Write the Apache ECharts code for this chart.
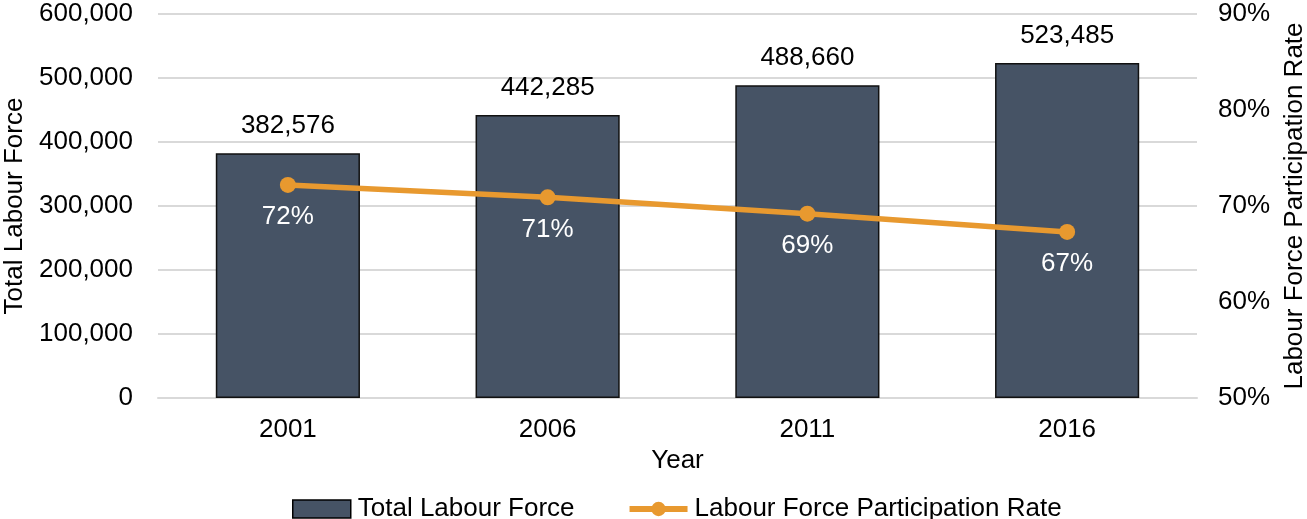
<!DOCTYPE html>
<html>
<head>
<meta charset="utf-8">
<script src="https://cdn.jsdelivr.net/npm/echarts@6/dist/echarts.min.js"></script>
<style>html,body{margin:0;padding:0;background:#fff;}#c{width:1307px;height:519px;}</style>
</head>
<body>
<div id="c"></div>
<script>
const years = ['2001', '2006', '2011', '2016'];
const labourForce = [382576, 442285, 488660, 523485];
const participationRate = [72.2, 70.9, 69.2, 67.3];
const leftTicks = {min: 0, max: 600000, interval: 100000};
const rightTicks = {min: 50, max: 90, interval: 10};

const FONT = '"Liberation Sans", Arial, sans-serif';
const FS = 26;
const ORANGE = '#E8992F';
const chart = echarts.init(document.getElementById('c'), null, {renderer: 'canvas'});
chart.setOption({
  backgroundColor: '#ffffff',
  animation: false,
  textStyle: {fontFamily: FONT, color: '#000'},
  grid: {left: 158, right: 110, top: 14, bottom: 121, containLabel: false, outerBoundsMode: 'none'},
  legend: {
    left: 287, top: 491,
    itemWidth: 58, itemHeight: 18, itemGap: 52,
    textStyle: {fontFamily: FONT, fontSize: FS, color: '#000', padding: [0, 0, 0, 2]},
    data: [
      {name: 'Total Labour Force', icon: 'rect', itemStyle: {color: '#465365', borderColor: '#000', borderWidth: 1.5}},
      {name: 'Labour Force Participation Rate', itemStyle: {color: ORANGE}, lineStyle: {color: ORANGE, width: 6}}
    ]
  },
  xAxis: {
    type: 'category', data: years,
    name: 'Year', nameLocation: 'middle', nameGap: 46,
    nameTextStyle: {fontFamily: FONT, fontSize: FS, color: '#000'},
    axisLine: {show: true, lineStyle: {color: '#d9d9d9', width: 2}},
    axisTick: {show: false},
    axisLabel: {fontFamily: FONT, fontSize: FS, color: '#000', margin: 19}
  },
  yAxis: [
    {
      type: 'value', min: leftTicks.min, max: leftTicks.max, interval: leftTicks.interval,
      name: 'Total Labour Force', nameLocation: 'middle', nameGap: 129, nameRotate: 90,
      nameTextStyle: {fontFamily: FONT, fontSize: FS, color: '#000'},
      axisLine: {show: false}, axisTick: {show: false},
      splitLine: {lineStyle: {color: '#d9d9d9', width: 2}},
      axisLabel: {fontFamily: FONT, fontSize: FS, color: '#000', margin: 25,
        formatter: v => v.toLocaleString('en-US')}
    },
    {
      type: 'value', min: rightTicks.min, max: rightTicks.max, interval: rightTicks.interval,
      name: 'Labour Force Participation Rate', nameLocation: 'middle', nameGap: 85, nameRotate: 90,
      nameTextStyle: {fontFamily: FONT, fontSize: FS, color: '#000'},
      axisLine: {show: false}, axisTick: {show: false},
      splitLine: {show: false},
      axisLabel: {fontFamily: FONT, fontSize: FS, color: '#000', margin: 21,
        formatter: v => v + '%'}
    }
  ],
  series: [
    {
      name: 'Total Labour Force', type: 'bar', yAxisIndex: 0,
      data: labourForce, barWidth: '55.5%',
      itemStyle: {color: '#465365', borderColor: '#111', borderWidth: 1.5},
      label: {show: true, position: 'top', distance: 14, fontFamily: FONT, fontSize: FS, color: '#000',
        formatter: p => p.value.toLocaleString('en-US')}
    },
    {
      name: 'Labour Force Participation Rate', type: 'line', yAxisIndex: 1,
      data: participationRate,
      symbol: 'circle', symbolSize: 16,
      lineStyle: {color: ORANGE, width: 5.5},
      itemStyle: {color: ORANGE},
      label: {show: true, position: 'bottom', distance: 11, fontFamily: FONT, fontSize: FS, color: '#fff',
        formatter: p => Math.round(p.value) + '%'}
    }
  ]
});
</script>
</body>
</html>
